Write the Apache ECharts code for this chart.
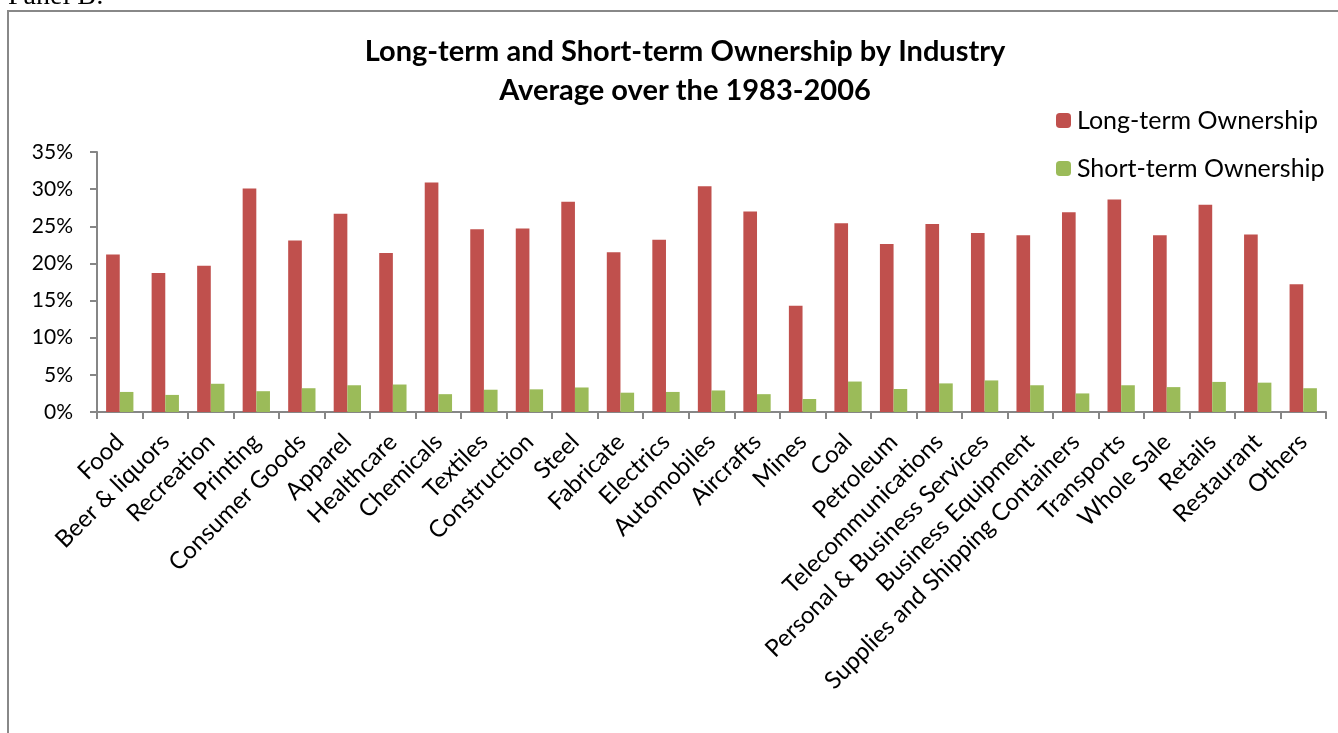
<!DOCTYPE html>
<html>
<head>
<meta charset="utf-8">
<script src="https://cdn.jsdelivr.net/npm/echarts@6/dist/echarts.min.js"></script>
<style>
html,body{margin:0;padding:0;background:#fff;}
#chart{width:1338px;height:733px;}
</style>
</head>
<body>
<div id="chart"></div>
<script>
const categories = ["Food","Beer & liquors","Recreation","Printing","Consumer Goods","Apparel","Healthcare","Chemicals","Textiles","Construction","Steel","Fabricate","Electrics","Automobiles","Aircrafts","Mines","Coal","Petroleum","Telecommunications","Personal & Business Services","Business Equipment","Supplies and Shipping Containers","Transports","Whole Sale","Retails","Restaurant","Others"];
const longTerm = [21.2,18.7,19.7,30.1,23.1,26.7,21.4,30.9,24.6,24.7,28.3,21.5,23.2,30.4,27.0,14.3,25.4,22.6,25.3,24.1,23.8,26.9,28.6,23.8,27.9,23.9,17.2];
const shortTerm = [2.7,2.3,3.8,2.8,3.2,3.6,3.7,2.4,3.0,3.05,3.3,2.6,2.7,2.9,2.4,1.75,4.1,3.1,3.85,4.25,3.6,2.5,3.6,3.35,4.05,3.95,3.2];
const yTicks = {min:0, max:35, interval:5};

const FONT = 'Lato, "Open Sans", sans-serif';
const chart = echarts.init(document.getElementById('chart'), null, {renderer:'canvas'});
chart.setOption({
  backgroundColor:'#fff',
  animation:false,
  textStyle:{fontFamily:FONT},
  title:{
    text:'Long-term and Short-term Ownership by Industry\nAverage over the 1983-2006',
    left:680, top:27, textAlign:'center',
    textStyle:{fontFamily:FONT, fontSize:29, fontWeight:'bold', color:'#000', lineHeight:39}
  },
  legend:{
    orient:'vertical', left:1051, top:103,
    itemWidth:15, itemHeight:15, itemGap:23,
    textStyle:{fontFamily:FONT, fontSize:25, color:'#000', padding:[0,0,0,1]},
    data:['Long-term Ownership','Short-term Ownership']
  },
  graphic:[
    {type:'rect', shape:{x:8, y:11, width:1400, height:800}, style:{fill:null, stroke:'#888', lineWidth:2}, z:-1},
    {type:'text', left:8, top:-17, style:{text:'Panel B:', font:'28px "Liberation Serif", serif', fill:'#000'}}
  ],
  grid:{left:97, right:12, top:152, bottom:321, containLabel:false},
  xAxis:{
    type:'category', data:categories,
    axisLine:{lineStyle:{color:'#868686', width:2}},
    axisTick:{show:true, alignWithLabel:false, length:7, lineStyle:{color:'#868686', width:2}},
    axisLabel:{interval:0, rotate:45, fontFamily:FONT, fontSize:24, color:'#000', margin:26}
  },
  yAxis:{
    type:'value', min:yTicks.min, max:yTicks.max, interval:yTicks.interval,
    splitLine:{show:false},
    axisLine:{show:true, lineStyle:{color:'#868686', width:2}},
    axisTick:{show:true, length:7, lineStyle:{color:'#868686', width:2}},
    axisLabel:{formatter:'{value}%', fontFamily:FONT, fontSize:21, color:'#000', margin:24}
  },
  series:[
    {name:'Long-term Ownership', type:'bar', data:longTerm, itemStyle:{color:'#C0504D'}, barGap:'0%', barCategoryGap:'40%'},
    {name:'Short-term Ownership', type:'bar', data:shortTerm, itemStyle:{color:'#9BBB59'}, barGap:'0%', barCategoryGap:'40%'}
  ]
});
</script>
</body>
</html>
